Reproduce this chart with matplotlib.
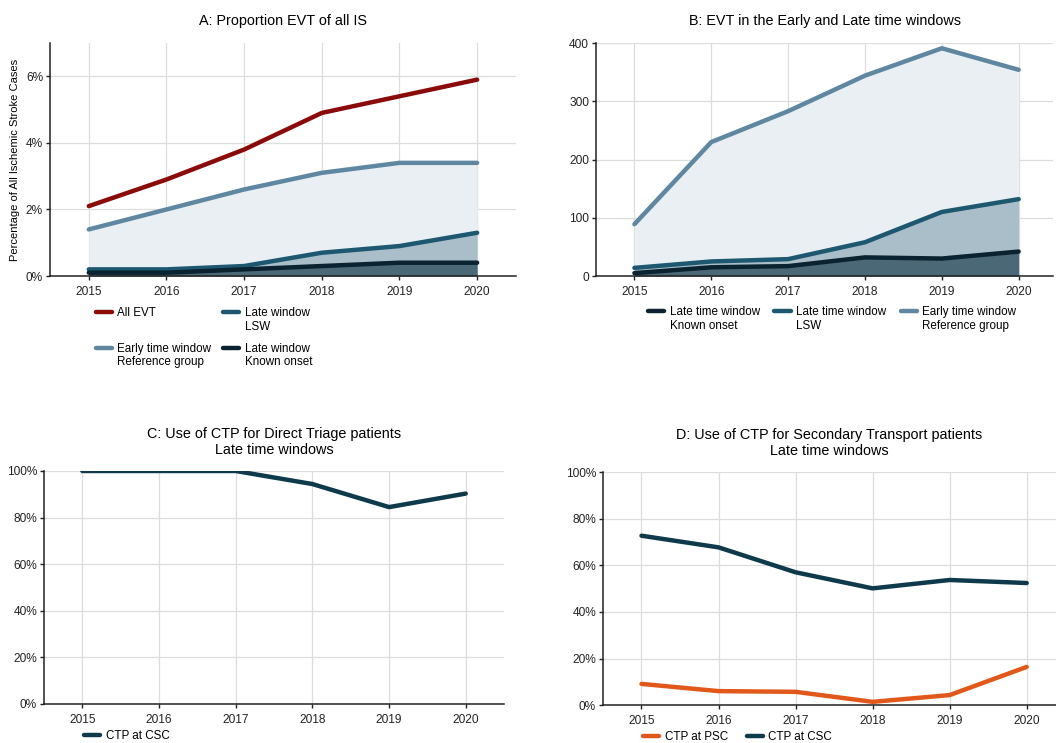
import matplotlib
matplotlib.use("Agg")
from matplotlib import pyplot as plt
from matplotlib.ticker import FuncFormatter

plt.rcParams['font.family'] = ['Liberation Sans', 'DejaVu Sans']

years = [2015, 2016, 2017, 2018, 2019, 2020]

# A: percentage of all ischemic stroke cases
a_all_evt = [2.1, 2.9, 3.8, 4.9, 5.4, 5.9]
a_early = [1.4, 2.0, 2.6, 3.1, 3.4, 3.4]
a_lsw = [0.2, 0.2, 0.3, 0.7, 0.9, 1.3]
a_known = [0.1, 0.1, 0.2, 0.3, 0.4, 0.4]

# B: EVT counts
b_early = [89, 230, 283, 344, 391, 354]
b_lsw = [14, 25, 29, 58, 110, 132]
b_known = [5, 15, 17, 32, 30, 42]

# C: CTP for direct triage (%)
c_csc = [100, 100, 100, 94.4, 84.5, 90.3]

# D: CTP for secondary transport (%)
d_csc = [72.7, 67.7, 57.0, 50.1, 53.7, 52.4]
d_psc = [9.1, 6.0, 5.7, 1.4, 4.3, 16.4]

RED = '#8b0a0a'
EARLY = '#5f87a1'
LSW = '#1d5870'
KNOWN = '#0b2230'
CSC = '#0e3a4b'
PSC = '#e2581a'
EARLY_FILL = '#e9eff2'
LSW_FILL = '#a9bec8'
KNOWN_FILL = '#4b6877'
LW = 3.2
TICK_FS = 8.6
LEG_FS = 8.4
TITLE_FS = 10.4

fig = plt.figure(figsize=(10.56, 7.43), dpi=100)
axA = fig.add_axes([0.0473, 0.6285, 0.4413, 0.3136])
axB = fig.add_axes([0.5644, 0.6285, 0.433, 0.3136])
axC = fig.add_axes([0.0417, 0.0525, 0.4356, 0.3136])
axD = fig.add_axes([0.571, 0.051, 0.429, 0.3136])


def style(ax, xlim):
    ax.set_xlim(*xlim)
    ax.set_xticks(years)
    ax.grid(True, color='#dddddd', linewidth=0.9)
    ax.set_axisbelow(True)
    for s in ['top', 'right']:
        ax.spines[s].set_visible(False)
    for s in ['left', 'bottom']:
        ax.spines[s].set_linewidth(1.1)
        ax.spines[s].set_color('#222222')
    ax.tick_params(labelsize=TICK_FS, length=3, width=1, colors='#222222')
    ax.tick_params(axis='x', pad=4)
    ax.tick_params(axis='y', pad=2)


def add_legend(ax, ncol, anchor, colspace, rowspace=0.5):
    leg = ax.legend(ncol=ncol, loc='upper left', bbox_to_anchor=anchor, frameon=False,
                    fontsize=LEG_FS, handlelength=1.4, handleheight=1.5,
                    columnspacing=colspace, labelspacing=rowspace, handletextpad=0.45,
                    borderpad=0.4)
    # line up handle with first text line, columns from the top
    box = leg._legend_handle_box
    box.align = 'top'
    for col in box.get_children():
        for entry in col.get_children():
            entry.align = 'top'
    return leg


# Panel A
ax = axA
ax.fill_between(years, 0, a_early, color=EARLY_FILL, lw=0)
ax.fill_between(years, 0, a_lsw, color=LSW_FILL, lw=0)
ax.fill_between(years, 0, a_known, color=KNOWN_FILL, lw=0)
ax.plot(years, a_all_evt, color=RED, lw=LW, solid_capstyle='round', label='All EVT\n')
ax.plot(years, a_early, color=EARLY, lw=LW, solid_capstyle='round',
        label='Early time window\nReference group')
ax.plot(years, a_lsw, color=LSW, lw=LW, solid_capstyle='round', label='Late window\nLSW')
ax.plot(years, a_known, color=KNOWN, lw=LW, solid_capstyle='round',
        label='Late window\nKnown onset')
style(ax, (2014.5, 2020.5))
ax.set_ylim(0, 7)
ax.set_yticks([0, 2, 4, 6])
ax.yaxis.set_major_formatter(FuncFormatter(lambda v, p: f'{v:.0f}%'))
ax.set_ylabel('Percentage of All Ischemic Stroke Cases', fontsize=8, labelpad=4)
ax.set_title('A: Proportion EVT of all IS', fontsize=TITLE_FS, pad=13)
add_legend(ax, 2, (0.076, -0.087), 1.0, rowspace=0.85)

# Panel B
ax = axB
ax.fill_between(years, 0, b_early, color=EARLY_FILL, lw=0)
ax.fill_between(years, 0, b_lsw, color=LSW_FILL, lw=0)
ax.fill_between(years, 0, b_known, color=KNOWN_FILL, lw=0)
ax.plot(years, b_known, color=KNOWN, lw=LW, solid_capstyle='round',
        label='Late time window\nKnown onset')
ax.plot(years, b_lsw, color=LSW, lw=LW, solid_capstyle='round',
        label='Late time window\nLSW')
ax.plot(years, b_early, color=EARLY, lw=LW, solid_capstyle='round',
        label='Early time window\nReference group')
style(ax, (2014.5, 2020.45))
ax.set_ylim(0, 400)
ax.set_yticks([0, 100, 200, 300, 400])
ax.set_title('B: EVT in the Early and Late time windows', fontsize=TITLE_FS, pad=13)
add_legend(ax, 3, (0.0906, -0.083), 1.25)

pct = FuncFormatter(lambda v, p: f'{v:.0f}%')

# Panel C
ax = axC
ax.plot(years, c_csc, color=CSC, lw=LW, solid_capstyle='round', label='CTP at CSC')
style(ax, (2014.5, 2020.5))
ax.set_ylim(0, 100)
ax.set_yticks([0, 20, 40, 60, 80, 100])
ax.yaxis.set_major_formatter(pct)
ax.set_title('C: Use of CTP for Direct Triage patients\nLate time windows',
             fontsize=TITLE_FS, pad=12)
add_legend(ax, 1, (0.064, -0.065), 1.0)

# Panel D
ax = axD
ax.plot(years, d_psc, color=PSC, lw=LW, solid_capstyle='round', label='CTP at PSC')
ax.plot(years, d_csc, color=CSC, lw=LW, solid_capstyle='round', label='CTP at CSC')
style(ax, (2014.5, 2020.38))
ax.set_ylim(0, 100)
ax.set_yticks([0, 20, 40, 60, 80, 100])
ax.yaxis.set_major_formatter(pct)
ax.set_title('D: Use of CTP for Secondary Transport patients\nLate time windows',
             fontsize=TITLE_FS, pad=12)
add_legend(ax, 2, (0.065, -0.065), 1.65)

fig.savefig('out.png', dpi=100)
